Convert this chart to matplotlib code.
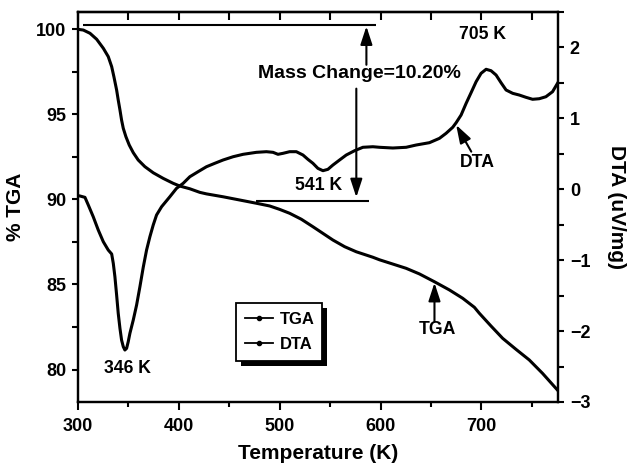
import matplotlib
matplotlib.use('Agg')
import matplotlib.pyplot as plt
from matplotlib.lines import Line2D
from matplotlib.patches import Rectangle
from matplotlib.transforms import IdentityTransform
from matplotlib.ticker import MultipleLocator

plt.rcParams['font.family'] = ['Liberation Sans', 'DejaVu Sans']
plt.rcParams['font.weight'] = 'bold'

# ── data ──────────────────────────────────────────────────────────────────────
tga_temp = [300.3, 305.3, 311.9, 318.5, 325.1, 330.0, 333.4, 335.6, 338.3, 339.9,
            341.6, 343.2, 344.9, 347.5, 350.8, 354.8, 359.7, 366.3, 374.6, 384.5,
            394.4, 401.0, 410.9, 420.8, 427.4, 443.9, 460.4, 476.9, 490.1, 500.0,
            509.9, 521.5, 533.0, 542.9, 552.8, 564.4, 576.0, 592.4, 599.0, 612.2,
            625.4, 638.6, 653.5, 668.3, 681.5, 693.1, 698.0, 709.6, 721.1, 734.4,
            747.5, 760.7, 775.5]
tga_mass = [99.98, 99.94, 99.75, 99.40, 98.87, 98.38, 97.79, 97.20, 96.42, 95.83,
            95.25, 94.66, 94.17, 93.68, 93.19, 92.74, 92.31, 91.92, 91.56, 91.23,
            90.94, 90.78, 90.62, 90.41, 90.32, 90.15, 89.96, 89.77, 89.61, 89.41,
            89.18, 88.83, 88.39, 88.00, 87.61, 87.22, 86.92, 86.60, 86.45, 86.20,
            85.95, 85.62, 85.16, 84.68, 84.19, 83.66, 83.31, 82.56, 81.84, 81.19,
            80.57, 79.78, 78.80]

dta_temp = [300.0, 302.0, 306.9, 310.2, 315.1, 320.1, 325.1, 330.0, 333.4, 335.0,
            336.6, 338.3, 339.9, 341.6, 343.2, 344.9, 346.5, 348.2, 349.8, 351.5,
            354.8, 358.1, 361.4, 364.7, 368.0, 371.3, 374.6, 377.9, 382.9, 391.1,
            397.7, 404.3, 410.9, 419.1, 427.4, 435.6, 443.9, 453.8, 463.7, 476.9,
            486.8, 493.4, 498.3, 503.3, 509.9, 516.5, 523.1, 528.0, 533.0, 537.9,
            542.9, 547.8, 552.8, 559.4, 566.0, 574.3, 582.5, 592.4, 599.0, 612.2,
            625.4, 635.3, 648.5, 658.4, 665.0, 671.6, 675.0, 679.9, 684.9, 689.8,
            694.8, 699.7, 704.7, 709.6, 714.6, 719.5, 724.5, 731.1, 737.6, 744.2,
            750.8, 757.4, 764.0, 770.6, 775.5]
dta_sig = [-0.09, -0.095, -0.114, -0.222, -0.387, -0.575, -0.740, -0.857, -0.913, -1.045,
           -1.233, -1.492, -1.750, -1.961, -2.126, -2.220, -2.267, -2.243, -2.150, -2.030,
           -1.844, -1.633, -1.374, -1.100, -0.857, -0.669, -0.504, -0.363, -0.246, -0.105,
           0.013, 0.084, 0.177, 0.248, 0.318, 0.366, 0.413, 0.459, 0.493, 0.521,
           0.530, 0.521, 0.493, 0.507, 0.530, 0.530, 0.483, 0.422, 0.366, 0.295,
           0.262, 0.281, 0.342, 0.413, 0.483, 0.544, 0.592, 0.600, 0.592, 0.582,
           0.592, 0.624, 0.657, 0.718, 0.789, 0.874, 0.939, 1.047, 1.212, 1.362,
           1.517, 1.635, 1.692, 1.672, 1.611, 1.503, 1.400, 1.353, 1.329, 1.297,
           1.269, 1.277, 1.305, 1.376, 1.494]

# mass change markers (on the % TGA scale)
mass_top, mass_bottom = 100.24, 89.92

# ── figure ────────────────────────────────────────────────────────────────────
fig = plt.figure(figsize=(6.27, 4.65), dpi=100)
ax = fig.add_axes([78 / 627, 63 / 465, 480 / 627, 390 / 465])
ax2 = ax.twinx()

ax.plot(tga_temp, tga_mass, color='k', lw=2.2, solid_joinstyle='round')
ax2.plot(dta_temp, dta_sig, color='k', lw=2.2, solid_joinstyle='round')

ax.set_xlim(300, 776)
ax.set_ylim(78.1, 101.0)
ax2.set_ylim(-3.0, 2.5)

for a in (ax, ax2):
    for s in a.spines.values():
        s.set_linewidth(1.6)

ax.xaxis.set_major_locator(MultipleLocator(100))
ax.xaxis.set_minor_locator(MultipleLocator(50))
ax.yaxis.set_major_locator(MultipleLocator(5))
ax.yaxis.set_minor_locator(MultipleLocator(2.5))
ax2.yaxis.set_major_locator(MultipleLocator(1))
ax2.yaxis.set_minor_locator(MultipleLocator(0.5))

ax.tick_params(axis='x', which='major', direction='out', length=5.8, width=1.5,
               labelsize=13, pad=6)
ax.tick_params(axis='x', which='minor', direction='out', length=3.8, width=1.5)
for a in (ax, ax2):
    a.tick_params(axis='y', which='major', direction='out', length=4.5, width=1.5,
                  labelsize=13, pad=4)
    a.tick_params(axis='y', which='minor', direction='out', length=4, width=1.5)

top = ax.secondary_xaxis('top')
top.xaxis.set_major_locator(MultipleLocator(50))
top.tick_params(direction='in', length=6, width=1.5, labeltop=False)
top.spines['top'].set_linewidth(1.6)

ax.set_xlabel('Temperature (K)', fontsize=15, fontweight='bold', labelpad=6)
ax.set_ylabel('% TGA', fontsize=15, fontweight='bold', labelpad=8)
ax2.set_ylabel('DTA (uV/mg)', fontsize=15, fontweight='bold', labelpad=12,
               rotation=270, va='bottom')

# ── annotations ───────────────────────────────────────────────────────────────
ax.hlines(mass_top, 305, 596, color='k', lw=1.5)
ax.hlines(mass_bottom, 477, 589, color='k', lw=1.5)

arrow = dict(arrowstyle='-|>,head_length=0.55,head_width=0.18', color='k',
             lw=1.5, shrinkA=0, shrinkB=0, mutation_scale=20)
ax.annotate('', xy=(586, mass_top - 0.08), xytext=(586, 97.9), arrowprops=arrow)
ax.annotate('', xy=(576, mass_bottom + 0.2), xytext=(576, 96.5), arrowprops=arrow)
ax.text(579, 97.39, 'Mass Change=10.20%', fontsize=14, ha='center', va='center')

ax.text(538.6, 90.84, '541 K', fontsize=12.7, ha='center', va='center')
ax.text(349.5, 80.07, '346 K', fontsize=12.7, ha='center', va='center')
ax.text(701, 99.7, '705 K', fontsize=12.7, ha='center', va='center')

ax.annotate('', xy=(675, 94.37), xytext=(690, 92.8), arrowprops=arrow)
ax.text(696, 92.19, 'DTA', fontsize=12.7, ha='center', va='center')
ax.annotate('', xy=(653.5, 85.1), xytext=(653.5, 82.82), arrowprops=arrow)
ax.text(656.4, 82.33, 'TGA', fontsize=12.7, ha='center', va='center')

# ── legend ────────────────────────────────────────────────────────────────────
handles = [Line2D([], [], color='k', lw=1.3, marker='o', ms=3),
           Line2D([], [], color='k', lw=1.3, marker='o', ms=3)]
leg = ax.legend(handles, ['TGA', 'DTA'], loc='lower left',
                bbox_to_anchor=(0.3285, 0.105, 0.179, 0.151), mode='expand',
                fontsize=12, numpoints=1, handlelength=1.7, handletextpad=0.4,
                borderpad=0.55, labelspacing=0.6, fancybox=False,
                framealpha=1, borderaxespad=0)
leg.get_frame().set_edgecolor('k')
leg.get_frame().set_linewidth(1.3)
leg.set_zorder(6)

# solid offset shadow behind the legend box
fig.canvas.draw()
bb = leg.get_window_extent()
ax.add_artist(Rectangle((bb.x0 + 5, bb.y0 - 5), bb.width, bb.height,
                        transform=IdentityTransform(), facecolor='k',
                        edgecolor='none', zorder=5.5))

fig.savefig('out.png', dpi=100)
